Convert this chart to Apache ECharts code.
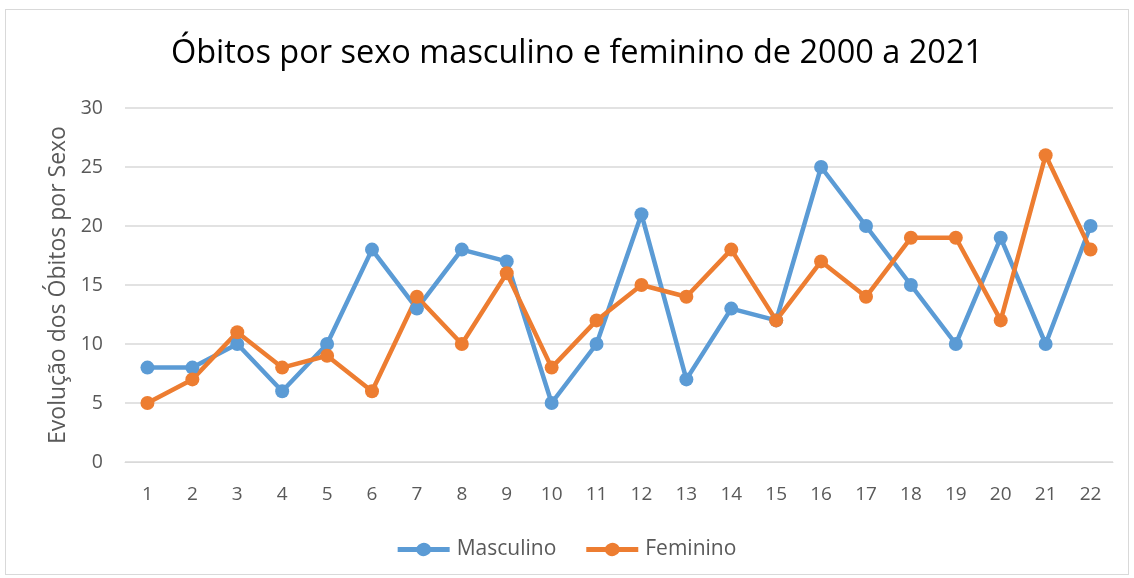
<!DOCTYPE html>
<html><head><meta charset="utf-8">
<script src="https://cdn.jsdelivr.net/npm/echarts@6/dist/echarts.min.js"></script>
<style>html,body{margin:0;padding:0;background:#fff}#c{width:1134px;height:578px}
#frame{position:absolute;left:5px;top:9px;width:1124px;height:566px;border:1px solid #d9d9d9;box-sizing:border-box;pointer-events:none}</style>
</head><body><div id="c"></div><div id="frame"></div>
<script>
const categories = ['1','2','3','4','5','6','7','8','9','10','11','12','13','14','15','16','17','18','19','20','21','22'];
const masculino = [8,8,10,6,10,18,13,18,17,5,10,21,7,13,12,25,20,15,10,19,10,20];
const feminino = [5,7,11,8,9,6,14,10,16,8,12,15,14,18,12,17,14,19,19,12,26,18];
const yTicks = {min:0, max:30, interval:5};
const font = '"Open Sans", "Noto Sans", sans-serif';
const chart = echarts.init(document.getElementById('c'));
const legendIcon = 'path://M0,5 L19,5 A8,8 0 0 1 33,5 L52,5 L52,10 L33,10 A8,8 0 0 1 19,10 L0,10 Z';
chart.setOption({
  animation:false,
  title:{text:'Óbitos por sexo masculino e feminino de 2000 a 2021', left:572, textAlign:'center', top:32,
    textStyle:{fontFamily:font, fontSize:32.5, fontWeight:'normal', color:'#000'}},
  grid:{left:125, right:21, top:108, bottom:116},
  legend:{bottom:13, left:'center', itemWidth:52, itemHeight:16, itemGap:30,
    textStyle:{fontFamily:font, fontSize:21, color:'#595959', padding:[0,0,0,2]},
    data:[{name:'Masculino', icon:legendIcon},{name:'Feminino', icon:legendIcon}]},
  xAxis:{type:'category', data:categories, boundaryGap:true,
    axisLine:{show:true, lineStyle:{color:'#d9d9d9', width:1}}, axisTick:{show:false},
    axisLabel:{fontFamily:font, fontSize:19, color:'#595959', margin:23}},
  yAxis:{type:'value', min:yTicks.min, max:yTicks.max, interval:yTicks.interval,
    name:'Evolução dos Óbitos por Sexo', nameLocation:'middle', nameGap:54,
    nameTextStyle:{fontFamily:font, fontSize:23, color:'#595959'},
    axisLine:{show:false}, axisTick:{show:false},
    axisLabel:{fontFamily:font, fontSize:19.5, color:'#595959', margin:22},
    splitLine:{lineStyle:{color:'#d9d9d9', width:1.5}}},
  series:[
    {name:'Masculino', type:'line', data:masculino, symbol:'circle', symbolSize:14,
      lineStyle:{color:'#5B9BD5', width:4.5}, itemStyle:{color:'#5B9BD5'}},
    {name:'Feminino', type:'line', data:feminino, symbol:'circle', symbolSize:14,
      lineStyle:{color:'#ED7D31', width:4.5}, itemStyle:{color:'#ED7D31'}}
  ]
});
</script></body></html>
